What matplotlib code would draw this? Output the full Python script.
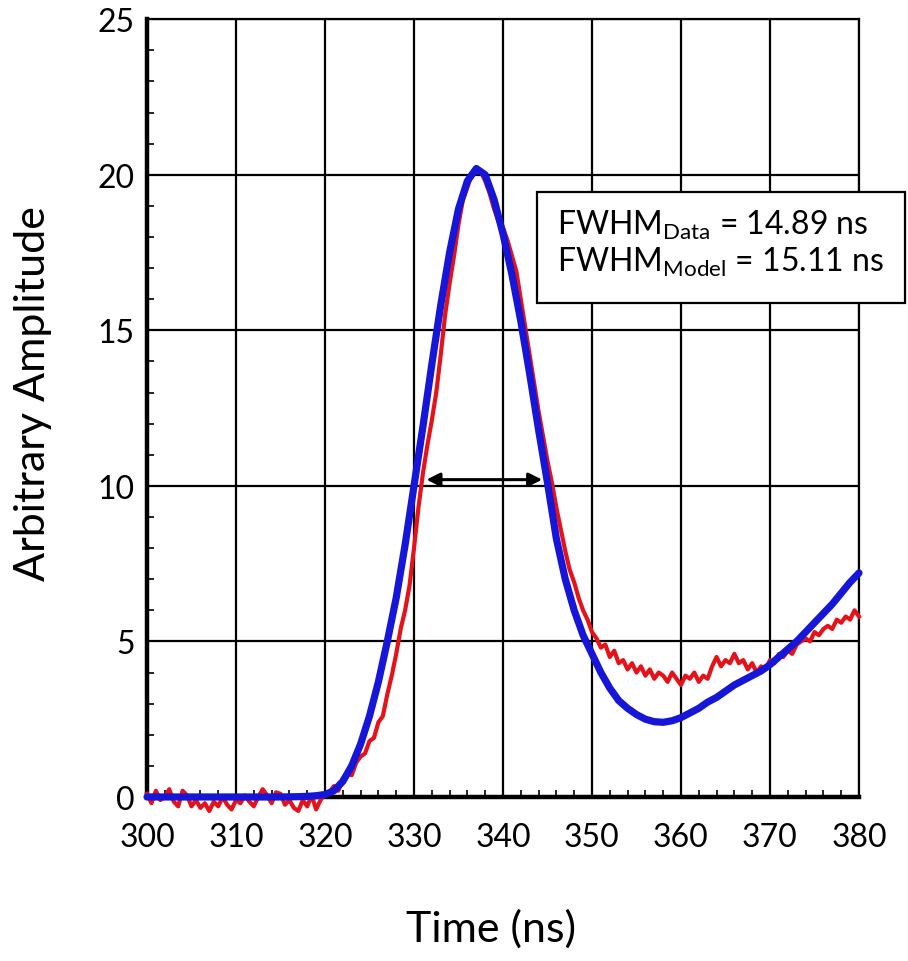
import numpy as np
import matplotlib
matplotlib.use('Agg')
import matplotlib.pyplot as plt
from matplotlib.patches import Rectangle

plt.rcParams['font.family'] = ['Lato', 'DejaVu Sans']
plt.rcParams['mathtext.fontset'] = 'custom'
plt.rcParams['mathtext.rm'] = 'Lato'

# measured signal, 0.5 ns steps from 300 to 380 ns
t_data = np.arange(300, 380.01, 0.5)
amp_data = [
    0.1, -0.2, 0.2, -0.1, 0.0, 0.25, -0.15, -0.3, 0.2, 0.05,
    -0.3, -0.1, -0.35, -0.2, -0.45, -0.15, -0.3, 0.0, -0.25, -0.4,
    -0.1, -0.2, 0.05, -0.15, -0.3, 0.0, 0.25, 0.05, -0.2, 0.15,
    0.1, -0.25, -0.1, -0.35, -0.45, -0.1, -0.3, 0.05, -0.4, -0.1,
    0.1,
    0.15, 0.35, 0.2, 0.6, 0.75, 0.7, 1.1, 1.3, 1.4, 1.8,
    1.9, 2.4, 2.6, 3.3, 3.9, 4.6, 5.4, 6.0, 6.8, 8.0,
    9.3, 10.4, 11.3, 12.1, 13.0, 14.2, 15.5, 16.5, 17.4, 18.4,
    19.2, 19.6, 20.0, 20.2, 20.1, 19.8, 19.4, 18.9, 18.5, 18.3,
    17.9, 17.4, 16.9, 16.0, 15.1, 14.2, 13.3, 12.4, 11.6, 10.8,
    10.1, 9.3, 8.6, 7.9, 7.3, 6.9, 6.4, 6.0, 5.7, 5.3,
    5.1, 4.8, 4.9, 4.5, 4.7, 4.3, 4.4, 4.1, 4.3, 4.0,
    4.2, 3.9, 4.1, 3.8, 4.0, 3.9, 3.7, 4.0, 3.8, 3.6,
    3.9, 3.8, 4.0, 3.7, 3.9, 3.8, 4.2, 4.5, 4.2, 4.4,
    4.3, 4.6, 4.3, 4.4, 4.1, 4.3, 4.0, 4.2, 4.1, 4.4,
    4.3, 4.6, 4.5, 4.7, 4.6, 4.9, 5.0, 5.1, 5.0, 5.3,
    5.2, 5.4, 5.5, 5.4, 5.7, 5.6, 5.8, 5.7, 6.0, 5.8,
]

# model curve, 1 ns steps
t_model = np.arange(300, 381, 1)
amp_model = [
    0, 0, 0, 0, 0, 0, 0, 0, 0, 0,
    0, 0, 0, 0, 0, 0, 0.005, 0.01, 0.02, 0.04,
    0.08, 0.2, 0.5, 1.0, 1.7, 2.6, 3.7, 5.0, 6.4, 8.1,
    10.0, 11.9, 13.9, 15.8, 17.5, 18.9, 19.8, 20.2, 20.0, 19.2,
    18.1, 16.8, 15.3, 13.6, 11.8, 10.1, 8.3, 7.0, 6.0, 5.2,
    4.6, 4.0, 3.5, 3.1, 2.85, 2.65, 2.5, 2.42, 2.4, 2.45,
    2.55, 2.7, 2.85, 3.05, 3.2, 3.4, 3.6, 3.75, 3.9, 4.05,
    4.25, 4.5, 4.75, 5.0, 5.3, 5.6, 5.9, 6.2, 6.55, 6.9,
    7.2,
]

fwhm_left, fwhm_right, fwhm_level = 331.4, 344.4, 10.2

fig = plt.figure(figsize=(9.08, 9.62), dpi=100)
ax = fig.add_axes([0.1619, 0.1705, 0.7841, 0.8085])

ax.plot(t_data, amp_data, color='#e6121a', lw=3, zorder=3, clip_on=False)
ax.plot(t_model, amp_model, color='#1616d8', lw=5.2, zorder=4,
        solid_capstyle='round', clip_on=False)

ax.annotate('', xy=(fwhm_left, fwhm_level), xytext=(fwhm_right, fwhm_level),
            arrowprops=dict(arrowstyle='<|-|>', color='black', lw=2.2,
                            mutation_scale=20, shrinkA=0, shrinkB=0), zorder=5)

ax.set_xlim(300, 380)
ax.set_ylim(0, 25)
ax.set_xticks(np.arange(300, 381, 10))
ax.set_yticks(np.arange(0, 26, 5))
ax.set_xticks(np.arange(300, 381, 2), minor=True)
ax.set_yticks(np.arange(0, 26, 1), minor=True)
ax.grid(True, which='major', color='black', lw=1.6)
ax.set_axisbelow(True)

ax.tick_params(which='major', length=0, labelsize=23)
ax.tick_params(axis='x', which='major', pad=18)
ax.tick_params(axis='y', which='major', pad=9)
ax.tick_params(which='minor', direction='in', length=5, width=1.2,
               top=False, right=False)

for side in ['left', 'bottom']:
    ax.spines[side].set_linewidth(3.2)
for side in ['top', 'right']:
    ax.spines[side].set_linewidth(1.6)

fig.text(0.036, 0.591, 'Arbitrary Amplitude', rotation=90, fontsize=31,
         ha='center', va='center')
fig.text(0.541, 0.034, 'Time (ns)', fontsize=31, ha='center', va='center')

# FWHM box, sticks out past the right edge of the axes
fig.patches.append(Rectangle((0.5914, 0.684), 0.4053, 0.1154,
                             transform=fig.transFigure, fill=True,
                             facecolor='white', edgecolor='black', lw=1.6))
fig.text(0.613, 1 - 235 / 962, r'FWHM$_{\mathrm{Data}}$ = 14.89 ns',
         fontsize=23, va='baseline')
fig.text(0.613, 1 - 272 / 962, r'FWHM$_{\mathrm{Model}}$ = 15.11 ns',
         fontsize=23, va='baseline')

fig.savefig('out.png', dpi=100)
